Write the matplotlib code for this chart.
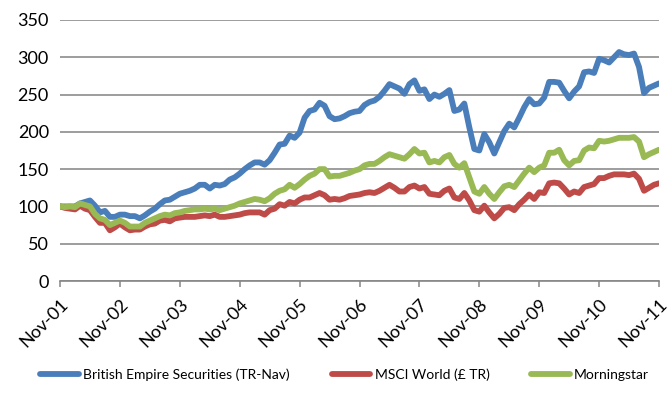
import numpy as np
import matplotlib
matplotlib.use("Agg")
import matplotlib.pyplot as plt

plt.rcParams['font.family'] = ['Lato', 'DejaVu Sans']

# monthly index values, Nov-01 .. Nov-11 (rebased to 100)
bes = [100, 100, 100, 100, 104, 106, 108, 101, 92, 94,
       86, 86, 89, 89, 87, 87, 84, 88, 93, 97,
       103, 108, 109, 113, 117, 119, 121, 124, 129, 129,
       124, 129, 128, 130, 136, 139, 144, 150, 155, 159,
       159, 156, 162, 172, 183, 184, 195, 192, 199, 219,
       228, 230, 239, 235, 221, 217, 218, 221, 225, 227,
       228, 236, 240, 242, 247, 255, 264, 261, 258, 251,
       264, 269, 255, 257, 244, 250, 247, 251, 256, 228,
       230, 238, 206, 177, 175, 197, 186, 171, 186, 201,
       211, 206, 219, 233, 244, 237, 238, 246, 267, 267,
       266, 255, 245, 254, 261, 280, 281, 279, 298, 296,
       293, 300, 307, 304, 303, 305, 287, 252, 259, 262,
       265]
msci = [100, 98, 97, 96, 101, 97, 95, 86, 78, 78,
        68, 72, 77, 72, 68, 69, 69, 73, 76, 77,
        81, 82, 80, 84, 85, 86, 86, 86, 87, 88,
        87, 89, 86, 86, 87, 88, 89, 91, 92, 92,
        92, 89, 95, 97, 103, 101, 106, 104, 109, 112,
        112, 115, 118, 115, 109, 110, 109, 111, 114, 115,
        116, 118, 119, 118, 121, 125, 129, 125, 120, 120,
        126, 128, 124, 126, 117, 116, 115, 121, 124, 112,
        110, 118, 108, 95, 93, 101, 92, 84, 90, 98,
        99, 95, 103, 109, 116, 110, 119, 118, 131, 132,
        131, 124, 116, 120, 118, 126, 128, 130, 138, 138,
        141, 143, 143, 143, 142, 144, 137, 121, 125, 129,
        131]
morningstar = [100, 99, 100, 99, 104, 102, 100, 90, 84, 82,
               75, 78, 81, 78, 73, 73, 73, 78, 81, 84,
               87, 89, 88, 91, 92, 94, 95, 96, 96, 97,
               96, 97, 95, 97, 99, 101, 104, 106, 108, 110,
               109, 107, 111, 117, 121, 123, 129, 125, 130, 136,
               141, 144, 150, 150, 140, 141, 141, 143, 145, 148,
               150, 155, 157, 157, 161, 166, 170, 168, 166, 164,
               170, 177, 171, 172, 159, 161, 159, 166, 169, 157,
               152, 158, 139, 120, 117, 126, 117, 110, 119, 127,
               129, 126, 135, 144, 152, 146, 152, 155, 172, 172,
               176, 162, 155, 161, 162, 175, 179, 178, 188, 187,
               188, 190, 192, 192, 192, 193, 187, 166, 170, 173,
               176]
tick_labels = ['Nov-01', 'Nov-02', 'Nov-03', 'Nov-04', 'Nov-05', 'Nov-06',
               'Nov-07', 'Nov-08', 'Nov-09', 'Nov-10', 'Nov-11']
names = ['British Empire Securities (TR-Nav)', 'MSCI World (\u00a3 TR)', 'Morningstar']
colors = ['#4a7ebb', '#be4b48', '#98b954']

fig = plt.figure(figsize=(6.72, 4.12), dpi=100)
ax = fig.add_axes([60/672, 1-281/412, 599/672, 261/412])

x = np.arange(len(bes))
for s, name, c in zip([bes, msci, morningstar], names, colors):
    ax.plot(x, s, color=c, lw=4.2, label=name, solid_joinstyle='round',
            solid_capstyle='round')

ax.set_xlim(0, 120)
ax.set_ylim(0, 350)
ax.set_yticks(np.arange(0, 351, 50))
ax.set_xticks(np.arange(0, 121, 12))
ax.set_xticklabels(tick_labels, rotation=45, ha='right', va='top',
                   rotation_mode='anchor', fontsize=13)
ax.tick_params(axis='y', length=0, pad=8, labelsize=13)
ax.tick_params(axis='x', length=4, width=1.1, color='#868686', direction='out', pad=7)
ax.grid(axis='y', color='#8c8c8c', lw=1.2)
ax.set_axisbelow(True)
for sp in ['top', 'right', 'left']:
    ax.spines[sp].set_visible(False)
ax.spines['bottom'].set_color('#868686')
ax.spines['bottom'].set_linewidth(1.2)

fig.legend(loc='center', bbox_to_anchor=(0.513, 0.09), ncol=3, frameon=False,
           fontsize=10, handlelength=2.8, handletextpad=0.3, columnspacing=3.0)

fig.savefig('out.png', dpi=100)
